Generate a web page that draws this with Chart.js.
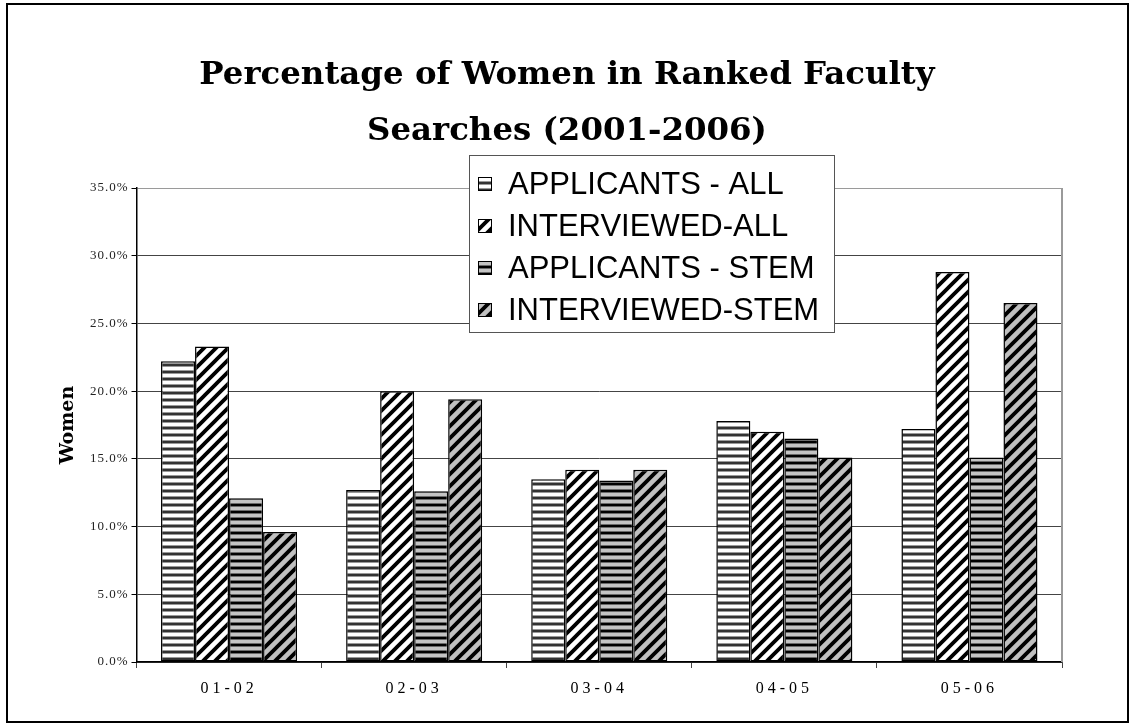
<!DOCTYPE html>
<html>
<head>
<meta charset="utf-8">
<script src="https://cdn.jsdelivr.net/npm/chart.js@4.4.0/dist/chart.umd.min.js"></script>
<style>
  html, body { margin: 0; padding: 0; background: #ffffff; }
  #wrap { position: relative; width: 1135px; height: 727px; }
</style>
</head>
<body>
<div id="wrap"><canvas id="c" width="1135" height="727"></canvas></div>
<script>
const titleLines = ['Percentage of Women in Ranked Faculty', 'Searches (2001-2006)'];
const categories = ['01-02', '02-03', '03-04', '04-05', '05-06'];
const seriesNames = ['APPLICANTS - ALL', 'INTERVIEWED-ALL', 'APPLICANTS - STEM', 'INTERVIEWED-STEM'];
const applicantsAll = [22.2, 12.7, 13.5, 17.8, 17.2];
const interviewedAll = [23.3, 20.0, 14.2, 17.0, 28.8];
const applicantsStem = [12.1, 12.6, 13.4, 16.5, 15.1];
const interviewedStem = [9.6, 19.4, 14.2, 15.1, 26.5];
const yTicksMin = 0, yTicksMax = 35, yTicksStep = 5;
const yTitle = 'Women';

const canvas = document.getElementById('c');
const ctx = canvas.getContext('2d');

function hPattern(bg, dark, mid) {
  const c = document.createElement('canvas'); c.width = 7; c.height = 7;
  const x = c.getContext('2d');
  x.fillStyle = bg; x.fillRect(0, 0, 7, 7);
  x.fillStyle = dark; x.fillRect(0, 0, 7, 2);
  x.fillStyle = mid; x.fillRect(0, 2, 7, 1); x.fillRect(0, 6, 7, 1);
  return ctx.createPattern(c, 'repeat');
}
function dPattern(bg, fg) {
  const p = 12;
  const c = document.createElement('canvas'); c.width = p; c.height = p;
  const x = c.getContext('2d');
  x.fillStyle = bg; x.fillRect(0, 0, p, p);
  x.strokeStyle = fg; x.lineWidth = 3.8;
  x.beginPath();
  x.moveTo(-1, p + 1); x.lineTo(p + 1, -1);
  x.moveTo(-p / 2 - 1, p / 2 + 1); x.lineTo(p / 2 + 1, -p / 2 - 1);
  x.moveTo(p / 2 - 1, p * 1.5 + 1); x.lineTo(p * 1.5 + 1, p / 2 - 1);
  x.stroke();
  return ctx.createPattern(c, 'repeat');
}
const fills = [
  hPattern('#ffffff', '#333333', '#999999'),
  dPattern('#ffffff', '#000000'),
  hPattern('#c4c4c4', '#000000', '#6a6a6a'),
  dPattern('#c0c0c0', '#000000')
];
const seriesData = [applicantsAll, interviewedAll, applicantsStem, interviewedStem];

function spaced(scale, spacing) {
  if (scale._spacedWrapped) return;
  const orig = scale.drawLabels.bind(scale);
  scale.drawLabels = function (ca) {
    const c = scale.ctx; c.save(); c.letterSpacing = spacing; orig(ca); c.restore();
  };
  scale._spacedWrapped = true;
}

const decor = {
  id: 'decor',
  afterDraw(chart) {
    const c = chart.ctx, a = chart.chartArea;
    c.save();
    c.strokeStyle = '#9a9a9a'; c.lineWidth = 2;
    c.beginPath(); c.moveTo(a.right, a.top); c.lineTo(a.right, a.bottom); c.stroke();
    c.strokeStyle = '#000'; c.lineWidth = 2;
    c.strokeRect(7, 4, 1121, 718);
    c.fillStyle = '#000'; c.textAlign = 'center'; c.textBaseline = 'middle';
    c.font = 'bold 100px "DejaVu Serif"';
    const w = c.measureText(titleLines[0]).width;
    const size = 100 * 735 / w;
    c.font = 'bold ' + size.toFixed(1) + 'px "DejaVu Serif"';
    c.fillText(titleLines[0], 567, 76);
    c.fillText(titleLines[1], 567, 132);
    const lx = 469, ly = 155, lw = 365, lh = 177;
    c.fillStyle = '#fff'; c.fillRect(lx, ly, lw, lh);
    c.strokeStyle = '#555'; c.lineWidth = 1;
    c.strokeRect(lx + 0.5, ly + 0.5, lw, lh);
    c.font = '31px "Liberation Sans"'; c.textAlign = 'left'; c.textBaseline = 'middle';
    chart.data.datasets.forEach((ds, i) => {
      const y = 184 + i * 42;
      c.fillStyle = ds.backgroundColor;
      c.fillRect(478, y - 7, 14, 14);
      c.strokeStyle = '#000'; c.lineWidth = 1;
      c.strokeRect(478.5, y - 6.5, 13, 13);
      c.fillStyle = '#000';
      c.fillText(ds.label, 508, y + 1);
    });
    c.restore();
  }
};

new Chart(canvas, {
  type: 'bar',
  data: {
    labels: categories,
    datasets: seriesNames.map((name, i) => ({
      label: name,
      data: seriesData[i],
      backgroundColor: fills[i],
      borderColor: '#000',
      borderWidth: 1.5,
      borderSkipped: false,
      categoryPercentage: 0.735,
      barPercentage: 1.0
    }))
  },
  options: {
    responsive: false,
    animation: false,
    devicePixelRatio: 1,
    layout: { padding: { left: 50, right: 73, top: 188, bottom: 25 } },
    plugins: { legend: { display: false }, title: { display: false }, tooltip: { enabled: false } },
    scales: {
      x: {
        grid: { display: true, drawOnChartArea: false, drawTicks: true, tickLength: 6, offset: true, color: '#444' },
        border: { color: '#000', width: 1.5 },
        ticks: { color: '#000', padding: 11, font: { family: '"Liberation Serif"', size: 16 } },
        afterFit(s) { s.height = 40; spaced(s, '4px'); }
      },
      y: {
        min: yTicksMin, max: yTicksMax,
        grid: {
          color: (c) => (c.tick && c.tick.value === yTicksMax ? '#9a9a9a' : '#444'),
          lineWidth: 1, tickLength: 5, tickColor: '#000'
        },
        border: { color: '#000', width: 1.5 },
        ticks: {
          stepSize: yTicksStep, padding: 3, color: '#222',
          font: { family: '"Liberation Serif"', size: 13 },
          callback: (v) => v.toFixed(1) + '%'
        },
        title: {
          display: true, text: yTitle, color: '#000',
          font: { family: '"DejaVu Serif"', size: 19, weight: 'bold' },
          padding: { top: 7, bottom: 0 }
        },
        afterFit(s) { s.width = 86.5; spaced(s, '1px'); }
      }
    }
  },
  plugins: [decor]
});
</script>
</body>
</html>
